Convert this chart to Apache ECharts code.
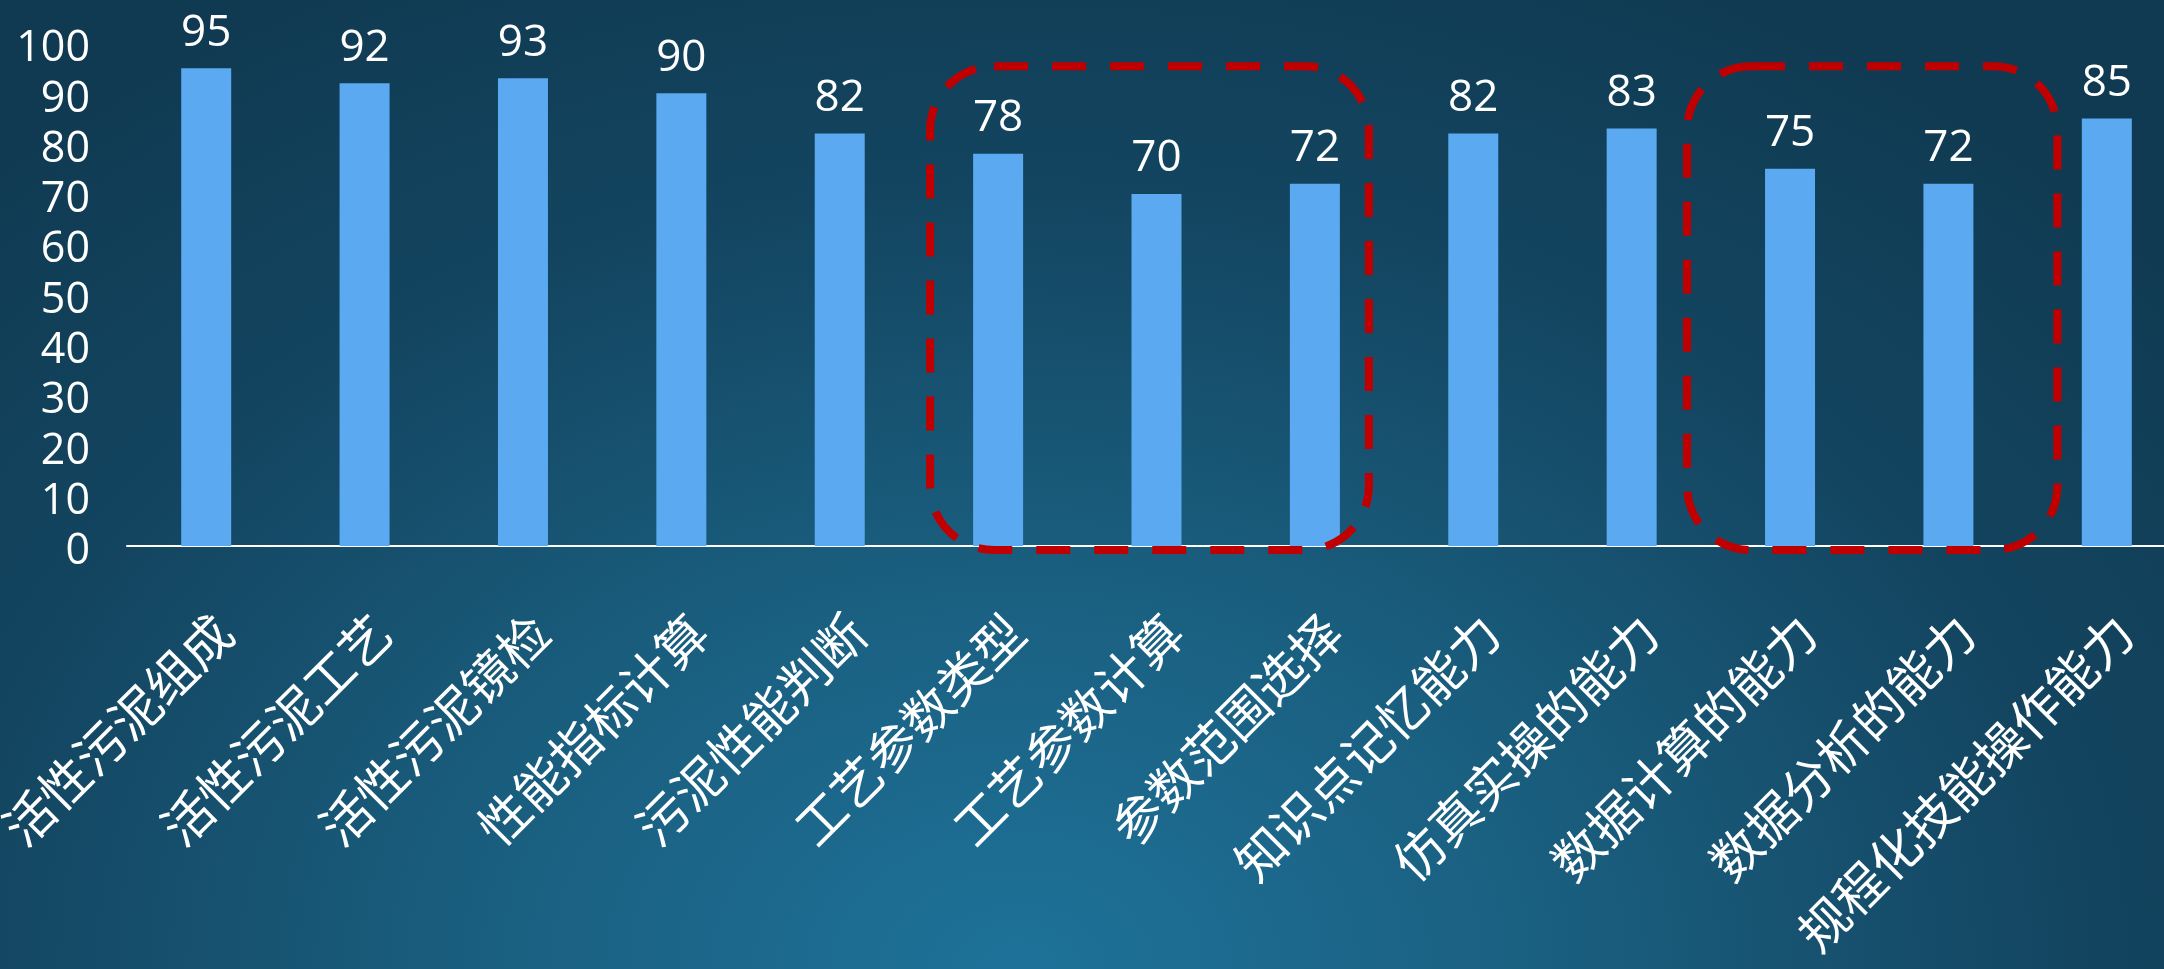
<!DOCTYPE html>
<html>
<head>
<meta charset="utf-8">
<script src="https://cdn.jsdelivr.net/npm/echarts@6/dist/echarts.min.js"></script>
<style>
  html, body { margin: 0; padding: 0; width: 2164px; height: 969px; overflow: hidden; }
  body {
    background: radial-gradient(ellipse 70% 115% at 47% 100%, #1e7299 0%, #1a5f80 35%, #134560 70%, #103a52 100%);
  }
  #chart { width: 2164px; height: 969px; }
</style>
</head>
<body>
<div id="chart"></div>
<script>
const categories = ['活性污泥组成','活性污泥工艺','活性污泥镜检','性能指标计算','污泥性能判断','工艺参数类型','工艺参数计算','参数范围选择','知识点记忆能力','仿真实操的能力','数据计算的能力','数据分析的能力','规程化技能操作能力'];
const scores = [95, 92, 93, 90, 82, 78, 70, 72, 82, 83, 75, 72, 85];
const yTicks = [0, 10, 20, 30, 40, 50, 60, 70, 80, 90, 100];
// highlighted groups: [first category index, last category index]
const highlightGroups = [[5, 7], [10, 11]];

const chart = echarts.init(document.getElementById('chart'), null, { renderer: 'canvas' });
chart.setOption({
  backgroundColor: 'transparent',
  animation: false,
  grid: { left: 127, top: 43, width: 2059, height: 503, outerBoundsMode: 'none', containLabel: false },
  xAxis: {
    type: 'category',
    data: categories,
    axisLine: { show: true, lineStyle: { color: '#ffffff', width: 2 } },
    axisTick: { show: false },
    axisLabel: {
      interval: 0, rotate: 45, margin: 60,
      color: '#ffffff', fontSize: 50, fontWeight: 'normal',
      fontFamily: '"Noto Sans CJK SC", sans-serif',
      align: 'right', verticalAlign: 'top'
    }
  },
  yAxis: {
    type: 'value',
    min: yTicks[0], max: yTicks[yTicks.length - 1], interval: yTicks[1] - yTicks[0],
    axisLine: { show: false },
    axisTick: { show: false },
    splitLine: { show: false },
    axisLabel: {
      margin: 37,
      formatter: '{v|{value}}',
      rich: {
        v: {
          color: '#ffffff', fontSize: 43,
          fontFamily: '"Open Sans", sans-serif',
          padding: [12, 0, 0, 0]
        }
      }
    }
  },
  series: [{
    type: 'bar',
    data: scores,
    barWidth: 50,
    itemStyle: { color: '#5ba9f1' },
    label: {
      show: true, position: 'top', distance: 13,
      color: '#ffffff', fontSize: 44,
      fontFamily: '"Open Sans", sans-serif'
    }
  }]
});

// dashed highlight boxes, positioned through the chart's own scales
const boxPad = [[68, 54], [103, 109]];
const boxTopValue = 95.4, boxBottomValue = -0.8;
const graphics = highlightGroups.map((g, i) => {
  const p0 = chart.convertToPixel({ seriesIndex: 0 }, [g[0], boxTopValue]);
  const p1 = chart.convertToPixel({ seriesIndex: 0 }, [g[1], boxBottomValue]);
  const x = p0[0] - boxPad[i][0];
  const w = (p1[0] + boxPad[i][1]) - x;
  const y = p0[1];
  const h = p1[1] - p0[1];
  return {
    type: 'rect', z: 100,
    shape: { x: x, y: y, width: w, height: h, r: 64 },
    style: { fill: 'none', stroke: '#c00000', lineWidth: 8, lineDash: [34, 24] }
  };
});
chart.setOption({ graphic: graphics });
</script>
</body>
</html>
